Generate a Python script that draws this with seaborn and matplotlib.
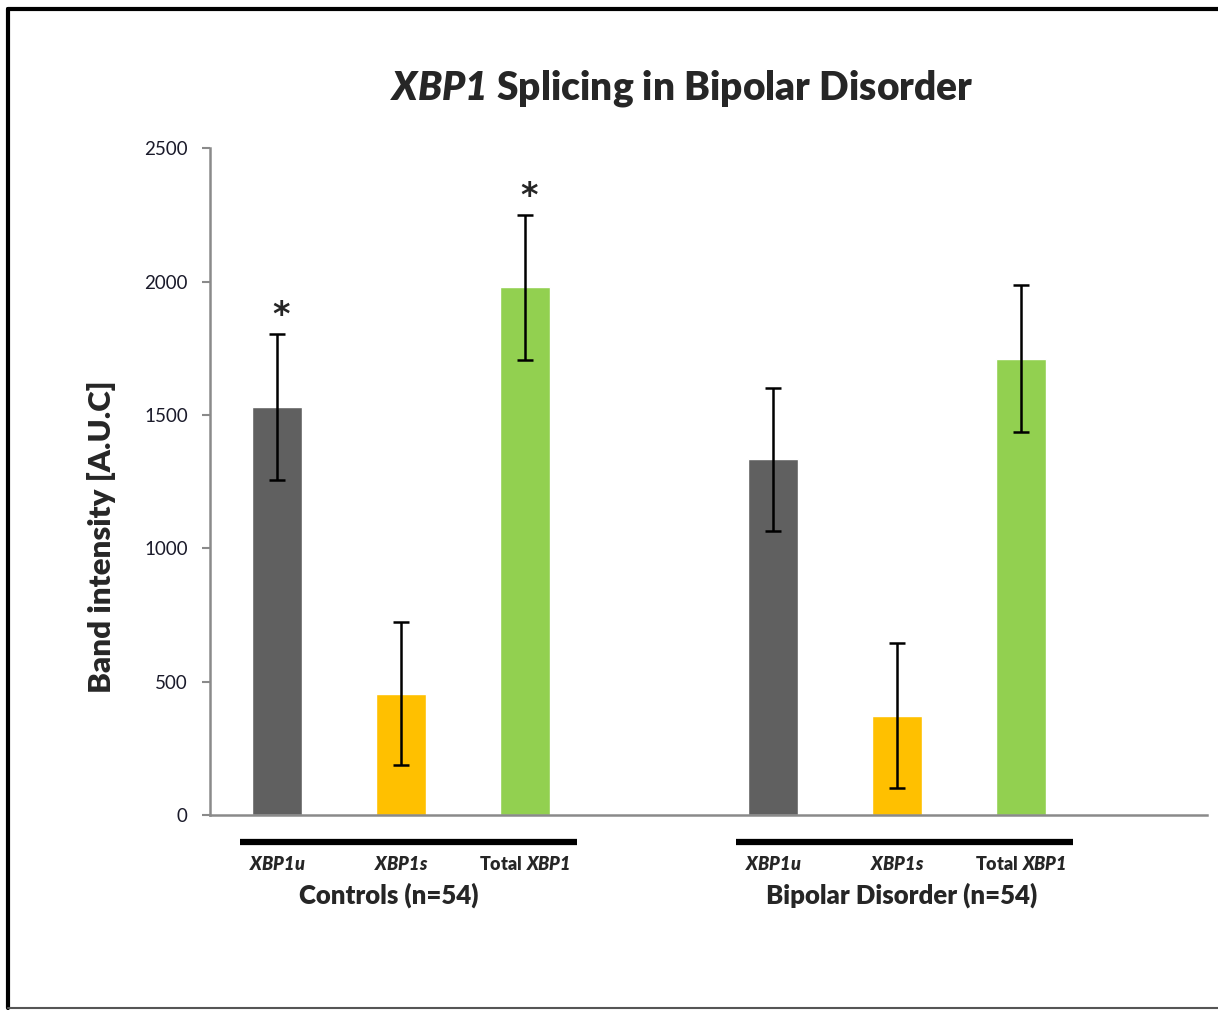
import numpy as np
import pandas as pd
import seaborn as sns
import matplotlib.pyplot as plt
from matplotlib.lines import Line2D
import matplotlib.transforms as mtransforms

# data
groups = ['Controls (n=54)', 'Bipolar Disorder (n=54)']
targets = ['XBP1u', 'XBP1s', 'Total XBP1']
target_labels = [r'$\mathbfit{XBP1u}$', r'$\mathbfit{XBP1s}$', r'$\mathbf{Total}\ \mathbfit{XBP1}$']
controls_mean = [1530, 455, 1980]
controls_err = [275, 268, 272]
bipolar_mean = [1335, 372, 1712]
bipolar_err = [268, 272, 275]
significant = [True, False, True]  # stars only over controls
colors = ['#606060', '#FFC000', '#92D050']

rows = []
for g, (means, errs) in enumerate([(controls_mean, controls_err), (bipolar_mean, bipolar_err)]):
    for t in range(3):
        rows.append({'group': groups[g], 'target': targets[t], 'pos': g * 4 + t,
                     'mean': means[t], 'err': errs[t]})
df = pd.DataFrame(rows)

sns.set_style('white')
plt.rcParams['font.family'] = ['Lato', 'DejaVu Sans']
plt.rcParams['mathtext.fontset'] = 'custom'
plt.rcParams['mathtext.rm'] = 'Lato'
plt.rcParams['mathtext.bf'] = 'Lato:heavy'
plt.rcParams['mathtext.it'] = 'Lato:italic'
plt.rcParams['mathtext.bfit'] = 'Lato:italic:heavy'

fig = plt.figure(figsize=(12.18, 10.10), dpi=100)
ax = fig.add_axes([0.1724, 0.1931, 0.8186, 0.6599])

sns.barplot(data=df, x='pos', y='mean', hue='target', palette=colors, native_scale=True,
            dodge=False, width=0.41, saturation=1, legend=False, errorbar=None, ax=ax)
ax.errorbar(df['pos'], df['mean'], yerr=df['err'], fmt='none', ecolor='black',
            elinewidth=1.8, capsize=5.8, capthick=1.8)

# significance stars
ctrl = df[df['group'] == groups[0]]
for (_, r), sig in zip(ctrl.iterrows(), significant):
    if sig:
        ax.annotate('*', (r['pos'], r['mean'] + r['err']), xytext=(3, 1), textcoords='offset points',
                    ha='center', va='bottom', fontsize=24, fontweight='bold', family='DejaVu Sans')

ax.set_xlim(-0.54, 7.5)
ax.set_ylim(0, 2500)
ax.set_yticks([0, 500, 1000, 1500, 2000, 2500])
ax.tick_params(axis='y', labelsize=13.5, length=6, width=1.5, color='#8a8a8a', left=True,
               pad=10, labelcolor='#1a1a2a')
ax.set_xticks(df['pos'])
ax.set_xticklabels(target_labels * 2, fontsize=13)
ax.tick_params(axis='x', length=0, pad=29)
ax.set_xlabel('')
ax.set_ylabel('Band intensity [A.U.C]', fontsize=22.5, fontweight='heavy')
ax.yaxis.set_label_coords(-0.094, 0.417)
for s in ['top', 'right']:
    ax.spines[s].set_visible(False)
for s in ['left', 'bottom']:
    ax.spines[s].set_color('#8a8a8a')
    ax.spines[s].set_linewidth(1.8)

# group underlines and group names
trans = mtransforms.blended_transform_factory(ax.transData, ax.transAxes)
name_shift = [0.9, 1.04]
for g, name in enumerate(groups):
    start = g * 4
    ax.add_line(Line2D([start - 0.3, start + 2.42], [-0.0405, -0.0405], transform=trans,
                       color='black', lw=4.5, clip_on=False, solid_capstyle='butt'))
    ax.text(start + name_shift[g], -0.12, name, transform=trans, ha='center', va='center',
            fontsize=18.5, fontweight='heavy')

fig.text(0.56, 0.912, r'$\mathbfit{XBP1}$ Splicing in Bipolar Disorder', ha='center', va='center',
         fontsize=28, fontweight='heavy')

# outer frame from the screenshot
fig.add_artist(Line2D([0.0066, 0.0066], [0.0015, 0.991], color='black', lw=3, transform=fig.transFigure))
fig.add_artist(Line2D([0.0066, 1.0], [0.991, 0.991], color='black', lw=3, transform=fig.transFigure))
fig.add_artist(Line2D([0.0066, 1.0], [0.0015, 0.0015], color='#555555', lw=1.5, transform=fig.transFigure))

fig.savefig('out.png', dpi=100)
